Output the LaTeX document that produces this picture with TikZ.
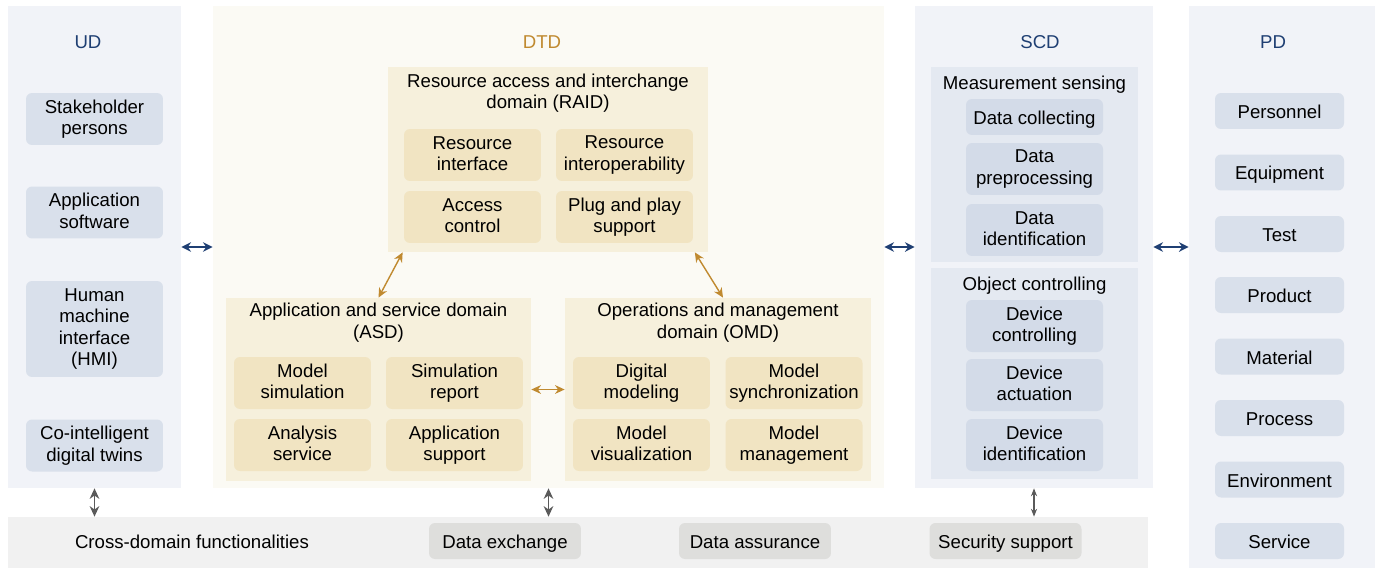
\documentclass[tikz,border=0pt]{standalone}
\usepackage{fontspec}
\setmainfont{Liberation Sans}
\usetikzlibrary{arrows.meta, positioning, fit, calc}

\definecolor{udpanel}{HTML}{F1F3F8}
\definecolor{udbox}{HTML}{D9E0EB}
\definecolor{scdgroup}{HTML}{E4E9F1}
\definecolor{scdbox}{HTML}{D3DBE8}
\definecolor{navy}{HTML}{1F3F73}
\definecolor{dtdpanel}{HTML}{FBFAF4}
\definecolor{dtdgroup}{HTML}{F6F0DC}
\definecolor{dtdbox}{HTML}{F1E4C2}
\definecolor{ochre}{HTML}{C08A30}
\definecolor{bandgray}{HTML}{F1F1F1}
\definecolor{bandbox}{HTML}{DEDEDC}
\definecolor{arrowgray}{HTML}{5A5A5A}

% same height and depth on every text line
\newcommand{\cellstrut}{\rule[-1.8pt]{0pt}{12.2pt}}

\begin{document}
\begin{tikzpicture}[x=0.02cm, y=-0.02cm, font=\fontsize{10.6}{12.2}\selectfont, >=Stealth,
  panel/.style={inner sep=0pt, fill=#1},
  cell/.style={rounded corners=0.12cm, align=center, inner sep=0pt,
    execute at begin node=\cellstrut, execute at end node=\cellstrut},
  udcell/.style={cell, fill=udbox, minimum width=2.74cm, minimum height=1.04cm},
  dtdcell/.style={cell, fill=dtdbox, minimum width=2.74cm, minimum height=1.04cm},
  scdcell/.style={cell, fill=scdbox, minimum width=2.74cm, minimum height=#1},
  pdcell/.style={cell, fill=udbox, minimum width=2.58cm, minimum height=0.72cm},
  bandcell/.style={cell, fill=bandbox, minimum width=3.04cm, minimum height=0.72cm},
  heading/.style={align=center, execute at begin node=\cellstrut, execute at end node=\cellstrut},
  linkblue/.style={{Stealth[length=5.5pt,width=5.5pt]}-{Stealth[length=5.5pt,width=5.5pt]},
    navy, line width=1pt},
  linkochre/.style={{Stealth[length=5.5pt,width=5pt]}-{Stealth[length=5.5pt,width=5pt]},
    ochre, line width=0.8pt},
  linkgray/.style={{Stealth[length=6pt,width=5.5pt]}-{Stealth[length=6pt,width=5.5pt]},
    arrowgray, line width=0.7pt},
  linkthin/.style={{Stealth[length=4.5pt,width=3.5pt]}-{Stealth[length=4.5pt,width=3.5pt]},
    arrowgray, line width=0.6pt}]

  \useasboundingbox (0,0) rectangle (1375,568);

  % domain panels and the cross-domain band
  \node[panel=udpanel,  fit={(8,6) (181,488)}]    (ud)   {};
  \node[panel=dtdpanel, fit={(213,6) (884,488)}]  (dtd)  {};
  \node[panel=udpanel,  fit={(915,6) (1153,488)}] (scd)  {};
  \node[panel=udpanel,  fit={(1189,6) (1375,568)}] (pd)  {};
  \node[panel=bandgray, fit={(8,517) (1148,568)}] (band) {};

  \node[text=navy]  (udtitle)  at (88,42)   {UD};
  \node[text=ochre] (dtdtitle) at (542,42)  {DTD};
  \node[text=navy]  (scdtitle) at (1040,42) {SCD};
  \node[text=navy]  (pdtitle)  at (1273,42) {PD};

  % user domain
  \node[udcell] (stake) at (94.5,119)   {Stakeholder\\persons};
  \node[udcell] (appsw) at (94.5,212.5) {Application\\software};
  \node[udcell, minimum height=1.92cm] (hmi) at (94.5,329) {Human\\machine\\interface\\(HMI)};
  \node[udcell] (cidt)  at (94.5,445.5) {Co-intelligent\\digital twins};

  % digital twin domain: RAID on top, ASD and OMD below
  \node[panel=dtdgroup, fit={(388,67) (708,252)}] (raid) {};
  \node[heading] (raidtitle) at (548,93) {Resource access and interchange\\domain (RAID)};
  \node[dtdcell] (resif)  at (472.5,155) {Resource\\interface};
  \node[dtdcell] (resiop) at (624.5,155) {Resource\\interoperability};
  \node[dtdcell] (acctl)  at (472.5,217) {Access\\control};
  \node[dtdcell] (plug)   at (624.5,217) {Plug and play\\support};

  \node[panel=dtdgroup, fit={(226,298) (531,481)}] (asd) {};
  \node[heading] (asdtitle) at (378.5,322.5) {Application and service domain\\(ASD)};
  \node[dtdcell] (msim)  at (302.5,383) {Model\\simulation};
  \node[dtdcell] (srep)  at (454.5,383) {Simulation\\report};
  \node[dtdcell] (anal)  at (302.5,445) {Analysis\\service};
  \node[dtdcell] (appsp) at (454.5,445) {Application\\support};

  \node[panel=dtdgroup, fit={(565,298) (871,481)}] (omd) {};
  \node[heading] (omdtitle) at (718,322.5) {Operations and management\\domain (OMD)};
  \node[dtdcell] (dmod)  at (641.5,383) {Digital\\modeling};
  \node[dtdcell] (msync) at (794,383)   {Model\\synchronization};
  \node[dtdcell] (mvis)  at (641.5,445) {Model\\visualization};
  \node[dtdcell] (mman)  at (794,445)   {Model\\management};

  % sensing and controlling domain
  \node[panel=scdgroup, fit={(931,67) (1138,262)}]  (msense) {};
  \node[heading] (msensetitle) at (1034.5,82) {Measurement sensing};
  \node[scdcell=0.72cm] (dcol)  at (1034.5,117) {Data collecting};
  \node[scdcell=1.04cm] (dpre)  at (1034.5,169) {Data\\preprocessing};
  \node[scdcell=1.04cm] (dident) at (1034.5,230) {Data\\identification};

  \node[panel=scdgroup, fit={(931,268) (1138,479)}] (octrl) {};
  \node[heading] (octrltitle) at (1034.5,283) {Object controlling};
  \node[scdcell=1.04cm] (dctl)  at (1034.5,326) {Device\\controlling};
  \node[scdcell=1.04cm] (dact)  at (1034.5,385) {Device\\actuation};
  \node[scdcell=1.04cm] (devid) at (1034.5,445) {Device\\identification};

  % physical domain
  \foreach \lbl/\yc [count=\i] in {Personnel/111, Equipment/172.5, Test/234, Product/295,
      Material/356.5, Process/418, Environment/479.5, Service/541} {
    \node[pdcell] (pd\i) at (1279.5,\yc) {\lbl};
  }

  % cross-domain functionalities
  \node[heading] (crosstitle) at (192,541) {Cross-domain functionalities};
  \node[bandcell] (dex)  at (505,541)    {Data exchange};
  \node[bandcell] (dass) at (755,541)    {Data assurance};
  \node[bandcell] (secs) at (1005.5,541) {Security support};

  % links between domains
  \draw[linkblue] (ud.east) -- (dtd.west);
  \draw[linkblue] (dtd.east) -- (scd.west);
  \draw[linkblue] (scd.east) -- (scd.east -| pd.west);

  \draw[linkochre] ([xshift=0.3cm]raid.south west) -- (asd.north);
  \draw[linkochre] ([xshift=-0.27cm]raid.south east) -- ([xshift=0.1cm]omd.north);
  \draw[linkochre] (asd.east) -- (omd.west);

  \draw[linkgray] (ud.south)  -- (ud.south |- band.north);
  \draw[linkgray] (dtd.south) -- (dtd.south |- band.north);
  \draw[linkthin] (scd.south) -- (scd.south |- band.north);
\end{tikzpicture}
\end{document}
